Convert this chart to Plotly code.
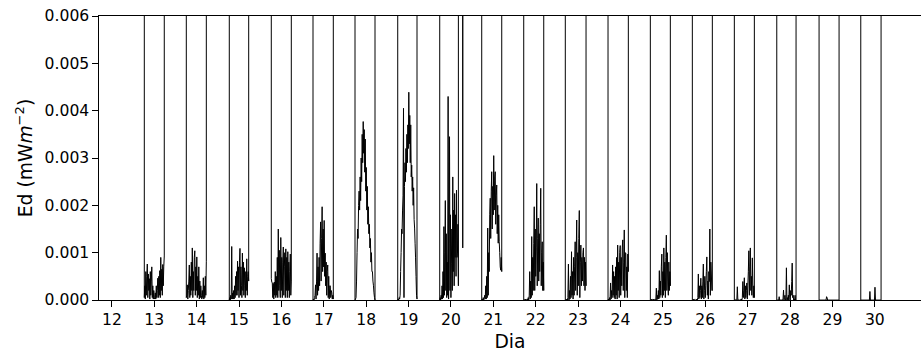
import numpy as np
import plotly.graph_objects as go

# Downwelling irradiance Ed, daytime sampling windows per day.
# Values are in units of 1e-3 mW m^-2; between windows the sensor logs
# nighttime readings far above the plotted range.
day_start = [12.765, 13.756, 14.770, 15.761, 16.745, 17.736, 18.744, 19.735, 20.278,
             20.726, 21.717, 22.698, 23.706, 24.704, 25.695, 26.686, 27.687, 28.685, 29.669]
day_end = [13.236, 14.228, 15.228, 16.233, 17.224, 18.208, 19.199, 20.175, 20.278,
           21.198, 22.189, 23.187, 24.185, 25.176, 26.167, 27.158, 28.142, 29.157, 30.148]

ed_d13 = [0.05, 0.3, 0.02, 0.6, 0.1, 0.5, 0.76, 0.05, 0.55, 0.2, 0.45, 0.02, 0.6, 0.1, 0.4, 0.7,
          0.05, 0.3, 0.02, 0.2, 0.05, 0.02, 0.15, 0.02, 0.3, 0.05, 0.2, 0.46, 0.05, 0.5, 0.1, 0.62,
          0.05, 0.9, 0.2, 0.65, 0.1, 0.75, 0.3, 0.7, 0.93]
ed_d14 = [0.05, 0.1, 0.32, 0.02, 0.2, 0.4, 0.74, 0.05, 0.5, 0.1, 0.8, 0.2, 1.1, 0.05, 0.6, 0.2,
          0.9, 1.04, 0.1, 0.7, 0.2, 0.91, 0.05, 0.5, 0.1, 0.7, 0.02, 0.4, 0.05, 0.3, 0.1, 0.02,
          0.2, 0.05, 0.47, 0.02, 0.3, 0.05, 0.5, 0.1, 0.82]
ed_d15 = [0.0, 0.05, 0.0, 0.1, 0.02, 1.13, 0.02, 0.15, 0.02, 0.2, 0.02, 0.3, 0.05, 0.5, 0.1, 0.6,
          0.1, 0.82, 0.2, 0.7, 0.05, 0.8, 1.09, 0.1, 0.7, 0.3, 0.05, 0.99, 0.2, 0.8, 0.1, 0.68,
          0.3, 0.05, 0.6, 0.2, 0.87, 0.1, 0.5, 0.6, 0.4]
ed_d16 = [0.45, 0.38, 0.36, 0.05, 0.35, 0.02, 0.38, 0.1, 0.6, 0.05, 0.5, 0.1, 0.9, 0.05, 1.5, 0.2,
          1.05, 0.3, 0.05, 1.32, 0.2, 0.9, 0.05, 0.8, 1.12, 0.1, 0.7, 1.0, 0.05, 1.08, 0.2, 0.9,
          0.05, 1.02, 0.2, 0.8, 0.05, 0.6, 0.97, 0.1, 0.4]
ed_d17 = [0.0, 0.02, 0.0, 0.05, 0.1, 0.32, 0.02, 0.4, 0.99, 0.1, 0.7, 0.2, 0.9, 0.3, 1.2, 1.65,
          0.4, 1.3, 1.97, 0.6, 1.5, 0.7, 1.68, 0.5, 0.99, 0.3, 0.8, 0.1, 0.6, 0.74, 0.05, 0.5,
          0.02, 0.3, 0.3, 0.05, 0.2, 0.15, 0.02, 0.1, 0.02]
ed_d18 = [0.0, 0.02, 0.05, 0.4, 1.0, 1.5, 1.3, 2.0, 2.3, 1.9, 2.6, 2.1, 3.0, 2.5, 3.5, 2.9,
          3.77, 3.1, 3.6, 2.7, 3.4, 2.3, 2.8, 1.9, 2.4, 1.6, 1.97, 1.4, 1.6, 1.1, 1.3, 0.8,
          1.0, 0.6, 0.6, 0.4, 0.3, 0.15, 0.05, 0.0]
ed_d19 = [0.0, 0.02, 0.0, 0.05, 0.02, 0.1, 0.6, 1.0, 1.5, 1.4, 1.9, 2.2, 4.05, 0.05, 2.4, 2.9,
          2.5, 3.2, 2.7, 3.5, 2.9, 3.7, 3.2, 4.39, 3.3, 3.9, 2.9, 3.7, 2.6, 2.85, 2.3, 2.6,
          2.0, 2.37, 1.7, 1.52, 1.2, 0.89, 0.5, 0.1, 0.02]
ed_d20 = [0.0, 0.05, 0.0, 0.1, 0.02, 0.3, 0.02, 0.6, 0.05, 1.55, 0.1, 1.0, 2.1, 0.2, 1.4, 0.05,
          0.8, 0.1, 4.3, 0.02, 1.2, 3.45, 0.2, 1.8, 0.05, 0.78, 1.5, 0.2, 2.6, 0.6, 1.9, 0.3,
          2.25, 0.9, 1.8, 0.5, 2.32, 0.9, 0.99, 1.6, 0.3]
ed_d20b = [1.1]
ed_d21 = [0.0, 0.02, 0.0, 0.05, 0.0, 0.03, 0.1, 0.02, 0.3, 0.02, 0.5, 0.05, 1.52, 0.1, 1.0, 0.6,
          1.8, 2.15, 1.3, 2.3, 2.71, 1.5, 2.4, 1.8, 3.05, 1.9, 2.6, 2.71, 1.6, 2.2, 2.43, 1.4,
          2.0, 1.2, 1.8, 1.23, 1.0, 0.7, 0.63, 0.9, 0.6]
ed_d22 = [0.0, 0.01, 0.0, 0.02, 0.0, 0.01, 0.0, 0.02, 0.0, 0.05, 0.0, 0.1, 0.6, 0.02, 0.4, 0.05,
          1.34, 0.1, 0.9, 0.2, 1.2, 1.97, 0.2, 1.5, 0.5, 1.1, 2.46, 0.3, 1.3, 1.73, 0.4, 1.4,
          0.6, 1.6, 2.36, 0.3, 1.0, 1.23, 0.2, 0.8, 0.2]
ed_d23 = [0.0, 0.01, 0.0, 0.02, 0.0, 0.05, 0.76, 0.0, 0.2, 0.02, 0.5, 0.05, 1.02, 0.1, 0.6, 0.02,
          0.9, 0.1, 0.7, 1.23, 0.2, 0.9, 1.69, 0.1, 1.0, 0.3, 1.3, 1.89, 0.05, 0.8, 1.16, 0.3,
          0.9, 0.4, 1.0, 1.1, 0.3, 0.9, 0.2, 0.8, 0.3]
ed_d24 = [0.0, 0.02, 0.0, 0.05, 0.0, 0.36, 0.02, 0.2, 0.05, 0.74, 0.1, 0.6, 0.05, 0.5, 0.02, 0.7,
          0.1, 0.9, 0.02, 1.16, 0.2, 0.8, 0.05, 1.0, 1.15, 0.1, 0.9, 0.3, 1.1, 1.27, 0.2, 0.8,
          1.48, 0.05, 1.0, 0.99, 0.2, 0.7, 0.05, 0.97, 0.6]
ed_d25 = [0.0, 0.01, 0.0, 0.02, 0.0, 0.01, 0.0, 0.02, 0.0, 0.01, 0.0, 0.02, 0.25, 0.0, 0.1, 0.02,
          0.2, 0.02, 0.62, 0.05, 0.4, 0.1, 0.7, 0.97, 0.05, 0.6, 0.1, 1.1, 0.2, 0.8, 0.05, 0.9,
          1.37, 0.2, 1.0, 0.4, 0.1, 0.8, 0.2, 0.6, 0.3]
ed_d26 = [0.0, 0.01, 0.0, 0.02, 0.0, 0.01, 0.0, 0.01, 0.0, 0.02, 0.0, 0.05, 0.55, 0.02, 0.3, 0.05,
          0.2, 0.46, 0.02, 0.3, 0.05, 0.4, 0.76, 0.02, 0.2, 0.5, 0.05, 0.3, 0.6, 0.91, 0.1, 0.4,
          0.02, 0.6, 0.39, 1.5, 0.1, 0.8, 0.57, 0.2, 0.2]
ed_d27 = [0.0, 0.0, 0.01, 0.0, 0.0, 0.0, 0.28, 0.0, 0.0, 0.01, 0.0, 0.0, 0.01, 0.0, 0.02, 0.0,
          0.05, 0.39, 0.05, 0.2, 0.47, 0.02, 0.3, 0.05, 0.2, 0.36, 0.02, 0.3, 0.6, 1.04, 0.1, 0.7,
          1.1, 0.2, 0.5, 0.1, 0.89, 0.3, 0.05, 0.3, 0.05]
ed_d28 = [0.0, 0.0, 0.0, 0.0, 0.0, 0.07, 0.0, 0.0, 0.0, 0.0, 0.0, 0.0, 0.0, 0.02, 0.21, 0.0,
          0.05, 0.1, 0.0, 0.02, 0.68, 0.0, 0.05, 0.0, 0.1, 0.0, 0.32, 0.05, 0.0, 0.2, 0.1, 0.39,
          0.78, 0.05, 0.1, 0.0, 0.02, 0.0, 0.1, 0.0, 0.0]
ed_d29 = [0.0, 0.0, 0.0, 0.0, 0.0, 0.0, 0.0, 0.0, 0.0, 0.0, 0.0, 0.0, 0.0, 0.0, 0.0, 0.07,
          0.05, 0.0, 0.0, 0.0, 0.0, 0.0, 0.0, 0.0, 0.0, 0.0, 0.0, 0.0, 0.0, 0.0, 0.0, 0.0,
          0.0, 0.0, 0.0, 0.0, 0.0, 0.0, 0.0, 0.0, 0.0]
ed_d30 = [0.0, 0.0, 0.0, 0.0, 0.0, 0.0, 0.0, 0.0, 0.0, 0.0, 0.0, 0.0, 0.0, 0.0, 0.0, 0.0,
          0.0, 0.0, 0.18, 0.0, 0.0, 0.0, 0.0, 0.0, 0.0, 0.0, 0.0, 0.0, 0.27, 0.0, 0.0, 0.0,
          0.0, 0.0, 0.0, 0.0, 0.0, 0.0, 0.0, 0.0, 0.0]

day_values = [ed_d13, ed_d14, ed_d15, ed_d16, ed_d17, ed_d18, ed_d19, ed_d20, ed_d20b,
              ed_d21, ed_d22, ed_d23, ed_d24, ed_d25, ed_d26, ed_d27, ed_d28, ed_d29, ed_d30]

NIGHT_ED = 0.05  # nighttime readings (mW m^-2), off the top of the axis
SCALE = 1e-3

x_ticks = list(range(12, 31))
y_ticks = [0.000, 0.001, 0.002, 0.003, 0.004, 0.005, 0.006]

# Assemble one continuous record: night -> daytime window -> night ...
t_all, ed_all = [], []
for start, end, vals in zip(day_start, day_end, day_values):
    t = np.linspace(start, end, len(vals))
    t_all += [t[0]] + list(t) + [t[-1]]
    ed_all += [NIGHT_ED] + [v * SCALE for v in vals] + [NIGHT_ED]

FONT = "DejaVu Sans"

fig = go.Figure()
fig.add_trace(go.Scatter(
    x=t_all, y=ed_all, mode="lines",
    line=dict(color="black", width=1.0, simplify=False),
    hoverinfo="skip", showlegend=False,
))

axis_common = dict(
    showline=True, linecolor="black", linewidth=1.2,
    ticks="outside", ticklen=5.5, tickwidth=1.2, tickcolor="black",
    showgrid=False, zeroline=False,
    tickfont=dict(family=FONT, size=15.6, color="black"),
)

fig.update_layout(
    width=921, height=354,
    margin=dict(l=99, r=0, t=16, b=54),
    paper_bgcolor="white", plot_bgcolor="white",
    xaxis=dict(range=[11.696, 31.09], tickvals=x_ticks, ticktext=[str(v) for v in x_ticks],
               mirror=True,
               title=dict(text="Dia", standoff=6,
                          font=dict(family=FONT, size=18.7, color="black")),
               **axis_common),
    yaxis=dict(range=[0, 0.006], tickvals=y_ticks, ticktext=[f"{v:.3f}" for v in y_ticks],
               title=dict(text="Ed (mW<i>m</i><sup>−2</sup>)", standoff=7,
                          font=dict(family=FONT, size=18.7, color="black")),
               **axis_common),
)

fig.write_html("out.html")
